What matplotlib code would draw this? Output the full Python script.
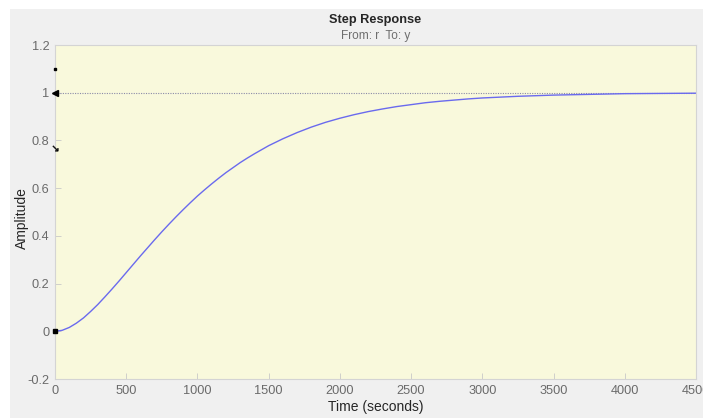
import matplotlib.pyplot as plt
import matplotlib.patches as patches

plt.rcParams['font.family'] = ['Liberation Sans', 'DejaVu Sans']

# step response samples (time in seconds, amplitude)
time_s = [0, 50, 100, 150, 200, 250, 300, 350, 400, 450, 500, 550, 600, 650, 700,
          750, 800, 850, 900, 950, 1000, 1050, 1100, 1150, 1200, 1250, 1300, 1350,
          1400, 1450, 1500, 1600, 1700, 1800, 1900, 2000, 2100, 2200, 2300, 2400,
          2500, 2600, 2700, 2800, 2900, 3000, 3250, 3500, 3750, 4000, 4250, 4500]
amplitude = [0.0, 0.004, 0.016, 0.034, 0.056, 0.083, 0.112, 0.144, 0.177, 0.211,
             0.246, 0.281, 0.316, 0.350, 0.384, 0.417, 0.449, 0.480, 0.510, 0.539,
             0.567, 0.593, 0.618, 0.642, 0.665, 0.686, 0.707, 0.726, 0.744, 0.761,
             0.778, 0.807, 0.833, 0.856, 0.876, 0.893, 0.908, 0.921, 0.932, 0.942,
             0.950, 0.958, 0.964, 0.969, 0.974, 0.978, 0.985, 0.990, 0.993, 0.996,
             0.997, 0.998]
final_value = 1.0

x_ticks = [0, 500, 1000, 1500, 2000, 2500, 3000, 3500, 4000, 4500]
x_ticklabels = ['0', '500', '1000', '1500', '2000', '2500', '3000', '3500', '4000', '4500']
y_ticks = [-0.2, 0, 0.2, 0.4, 0.6, 0.8, 1, 1.2]
y_ticklabels = ['-0.2', '0', '0.2', '0.4', '0.6', '0.8', '1', '1.2']

W, H = 703, 418
fig = plt.figure(figsize=(W / 100, H / 100), dpi=100, facecolor='#f0f0f0')

# white strips along the top and left edge of the window
fig.patches.append(patches.Rectangle((0, 1 - 9 / H), 1, 9 / H, transform=fig.transFigure,
                                     facecolor='white', edgecolor='none', zorder=0))
fig.patches.append(patches.Rectangle((0, 0), 10 / W, 1, transform=fig.transFigure,
                                     facecolor='white', edgecolor='none', zorder=0))

left, right, top, bottom = 55, 696, 45, 379
ax = fig.add_axes([left / W, 1 - bottom / H, (right - left) / W, (bottom - top) / H])
ax.set_facecolor('#f9f9dc')

ax.plot(time_s, amplitude, color='#6a6aee', lw=1.0, zorder=3)
ax.axhline(final_value, color='#8a8aa8', lw=0.8, ls=(0, (1, 1.2)), zorder=2)

# characteristic markers on the left edge
ax.plot([0], [final_value], marker='<', color='black', ms=4, clip_on=False, zorder=4)
ax.plot([0], [1.1], marker='s', color='black', ms=2, clip_on=False, zorder=4)
ax.plot([0], [0.77], marker='$\u2198$', color='black', ms=4, mew=0.3, clip_on=False, zorder=4)
ax.plot([0], [0], marker='s', color='black', ms=2.5, clip_on=False, zorder=4)

ax.set_xlim(0, 4500)
ax.set_ylim(-0.2, 1.2)
ax.set_xticks(x_ticks)
ax.set_xticklabels(x_ticklabels)
ax.set_yticks(y_ticks)
ax.set_yticklabels(y_ticklabels)
ax.tick_params(direction='in', length=4, width=0.6, colors='#c8c8c8',
               labelcolor='#6a6a6a', labelsize=9.2, pad=4)
for sp in ax.spines.values():
    sp.set_color('#d4d4d4')
    sp.set_linewidth(0.8)

ax.set_xlabel('Time (seconds)', fontsize=10, color='#262626')
ax.set_ylabel('Amplitude', fontsize=10, color='#262626')
ax.xaxis.set_label_coords(((333 + 419) / 2 - left) / (right - left), -(407 - bottom) / (bottom - top))
ax.yaxis.set_label_coords(-(left - 22) / (right - left), (bottom - 218) / (bottom - top))
ax.xaxis.label.set_va('center')
ax.yaxis.label.set_va('center')

cx = (left + right) / 2 / W
fig.text(cx, 1 - 20 / H, 'Step Response', ha='center', va='center',
         fontsize=9.2, fontweight='bold', color='#262626')
fig.text(cx, 1 - 36 / H, 'From: r  To: y', ha='center', va='center',
         fontsize=8.6, color='#6e6e6e')

fig.savefig('out.png', dpi=100, facecolor=fig.get_facecolor())
